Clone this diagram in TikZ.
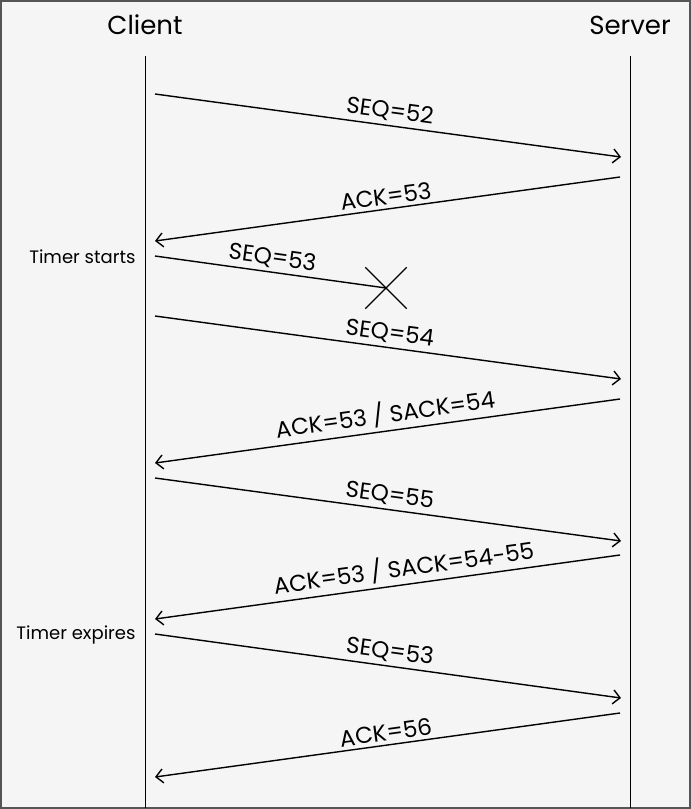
\documentclass[tikz,border=0pt]{standalone}
\usepackage{fontspec}
\setmainfont{Poppins}
\usetikzlibrary{arrows.meta,shapes.misc}
\definecolor{bggray}{HTML}{F5F5F5}
\definecolor{framegray}{HTML}{555555}
\tikzset{
  msg/.style={line width=1.4pt, -{Straight Barb[length=7pt,width=14pt,line width=1.4pt]}},
  lbl/.style={sloped, above, inner sep=3.5pt, font=\fontsize{23}{27}\selectfont},
  lifeline/.style={line width=0.9pt},
  note/.style={anchor=east, font=\fontsize{18}{21}\selectfont},
  party/.style={font=\fontsize{26}{30}\selectfont}
}
\begin{document}
\begin{tikzpicture}[x=1pt,y=-1pt]
            \useasboundingbox (0,0) rectangle (691,809);
            \draw[fill=bggray, draw=framegray, line width=2pt] (1,1) rectangle (690,808);
            % parties and lifelines
            \node[party] (client) at (145,25) {Client};
            \node[party] (server) at (630,25) {Server};
            \coordinate (ctop) at (145,56);
            \coordinate (cbot) at (145,808);
            \coordinate (stop) at (630,56);
            \coordinate (sbot) at (630,808);
            \draw[lifeline] (ctop) -- (cbot);
            \draw[lifeline] (stop) -- (sbot);
            % notes
            \node[note] (tstart) at (139,257) {Timer starts};
            \node[note] (texpire) at (139,635) {Timer expires};
            % message ends
            \coordinate (c1) at (155,94);  \coordinate (s1) at (621,157);
            \coordinate (s2) at (620,177); \coordinate (c2) at (155,241);
            \coordinate (c3) at (155,256);
            \coordinate (c4) at (155,316); \coordinate (s4) at (621,379);
            \coordinate (s5) at (620,399); \coordinate (c5) at (155,463);
            \coordinate (c6) at (155,478); \coordinate (s6) at (621,541);
            \coordinate (s7) at (620,555); \coordinate (c7) at (155,619);
            \coordinate (c8) at (155,634); \coordinate (s8) at (621,698);
            \coordinate (s9) at (620,713); \coordinate (c9) at (155,777);
            % lost segment
            \node[draw, cross out, minimum size=40pt, inner sep=0pt, line width=1.4pt] (lost) at (386,288) {};
            % messages
            \draw[msg] (c1) -- node[lbl] {SEQ=52} (s1);
            \draw[msg] (s2) -- node[lbl] {ACK=53} (c2);
            \draw[line width=1.4pt] (c3) -- node[lbl] {SEQ=53} (lost.center);
            \draw[msg] (c4) -- node[lbl] {SEQ=54} (s4);
            \draw[msg] (s5) -- node[lbl] {ACK=53 / SACK=54} (c5);
            \draw[msg] (c6) -- node[lbl] {SEQ=55} (s6);
            \draw[msg] (s7) -- node[lbl, pos=0.46] {ACK=53 / SACK=54-55} (c7);
            \draw[msg] (c8) -- node[lbl] {SEQ=53} (s8);
            \draw[msg] (s9) -- node[lbl] {ACK=56} (c9);
        \end{tikzpicture}
\end{document}
